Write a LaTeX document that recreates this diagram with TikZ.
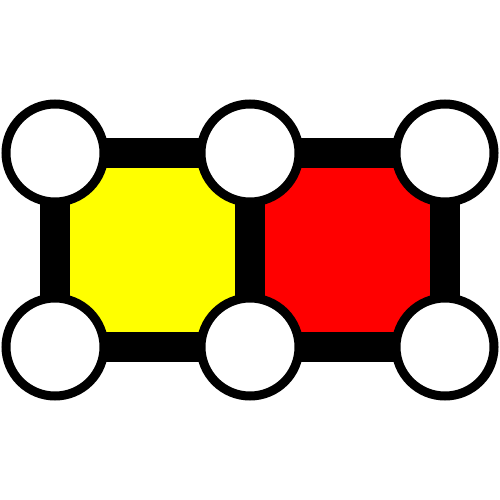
\documentclass[tikz,border=0pt]{standalone}
\definecolor{pureyellow}{RGB}{255,255,0}
\definecolor{purered}{RGB}{255,0,0}
\begin{document}
\begin{tikzpicture}[x=1pt,y=-1pt,
  bar/.style={line width=30pt},
  joint/.style={circle,draw=black,fill=white,line width=9pt,minimum size=98pt,inner sep=0pt}]
\useasboundingbox (0,0) rectangle (500,500);
\coordinate (p1) at (55,153);
\coordinate (p2) at (250,153);
\coordinate (p3) at (445,153);
\coordinate (p4) at (55,347);
\coordinate (p5) at (250,347);
\coordinate (p6) at (445,347);
\fill[pureyellow] (p1) rectangle (p5);
\fill[purered] (p2) rectangle (p6);
\draw[bar] (p1) -- (p3) -- (p6) -- (p4) -- cycle;
\draw[bar] (p2) -- (p5);
\node[joint] (c1) at (p1) {};
\node[joint] (c2) at (p2) {};
\node[joint] (c3) at (p3) {};
\node[joint] (c4) at (p4) {};
\node[joint] (c5) at (p5) {};
\node[joint] (c6) at (p6) {};
\end{tikzpicture}
\end{document}
